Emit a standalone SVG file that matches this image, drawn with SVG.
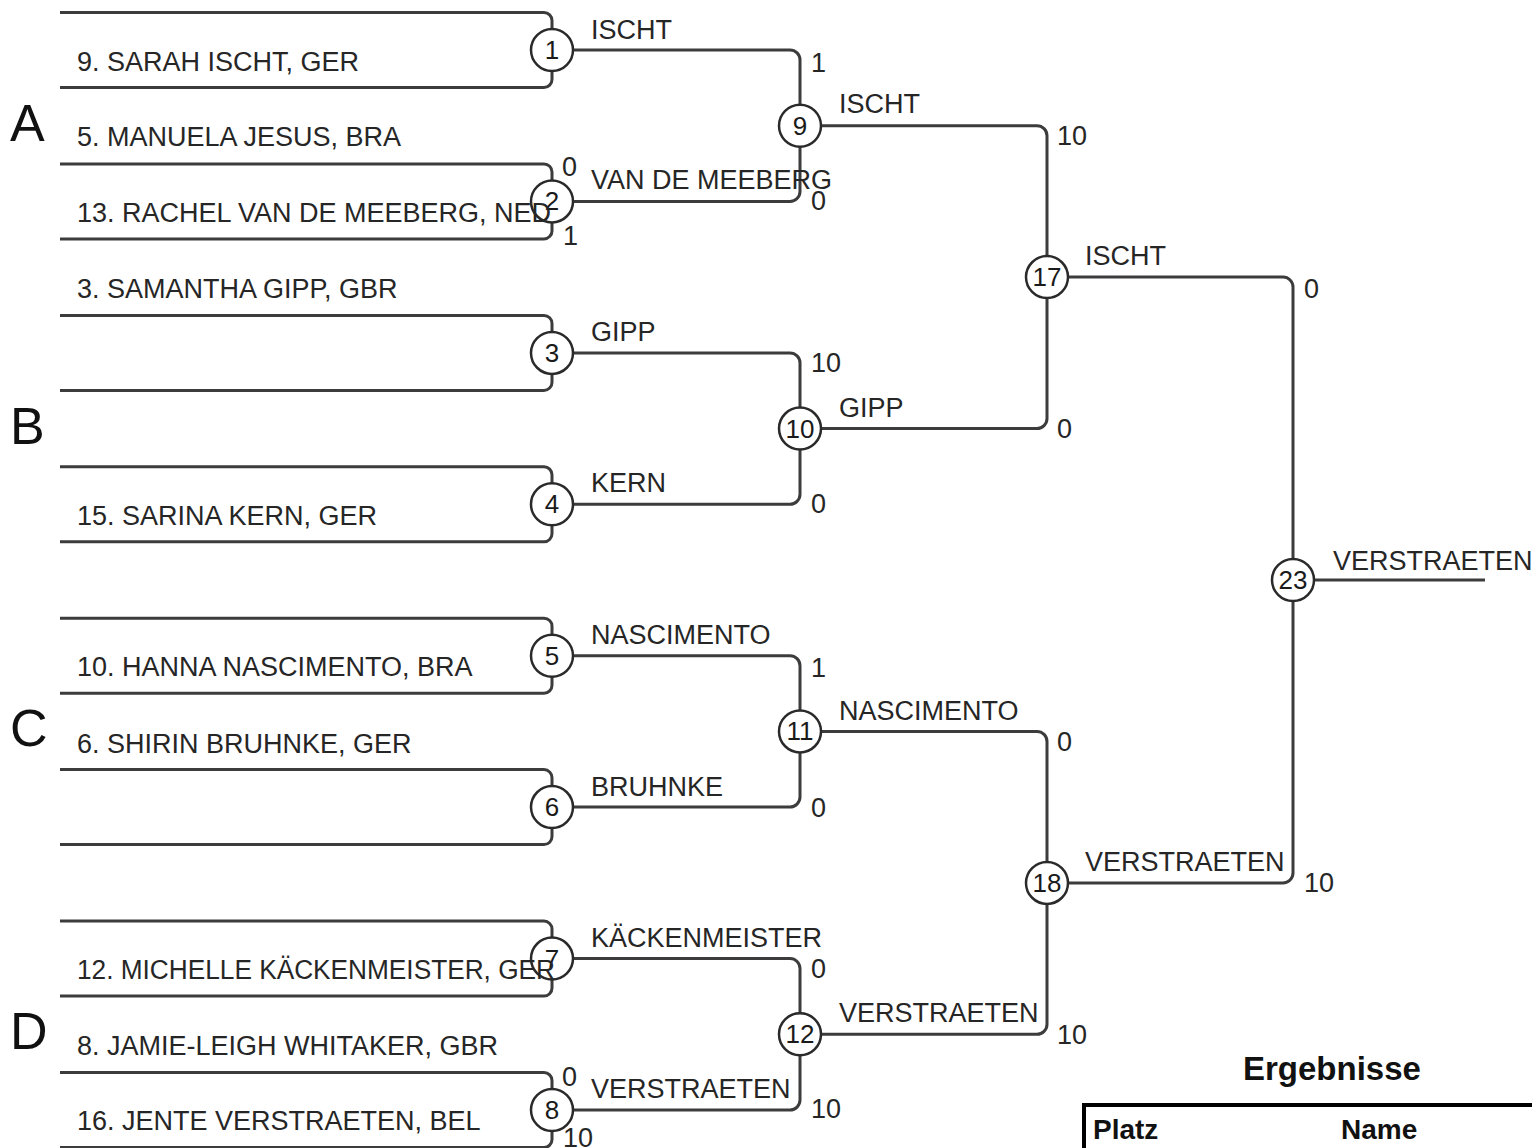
<svg xmlns="http://www.w3.org/2000/svg" width="1532" height="1148" viewBox="0 0 1532 1148">
<style>
.ln{fill:none;stroke:#3c3c3c;stroke-width:3;stroke-linecap:butt}
.c{fill:#fff;stroke:#2a2a2a;stroke-width:2.5}
.num{font-family:"Liberation Sans",Arial,sans-serif;font-size:26px;fill:#1a1a1a;text-anchor:middle}
.t{font-family:"Liberation Sans",Arial,sans-serif;font-size:27px;fill:#262626}
.g{font-family:"Liberation Sans",Arial,sans-serif;font-size:52px;fill:#111}
.h{font-family:"Liberation Sans",Arial,sans-serif;font-weight:bold;fill:#111}
</style>
<rect width="1532" height="1148" fill="#fff"/>
<g id="connectors" class="ln">
<path d="M60 12.5H544A8 8 0 0 1 552 20.5V29M60 87.5H544A8 8 0 0 0 552 79.5V71"/>
<path d="M60 163.9H544A8 8 0 0 1 552 171.9V180.4M60 238.9H544A8 8 0 0 0 552 230.9V222.4"/>
<path d="M60 315.4H544A8 8 0 0 1 552 323.4V331.9M60 390.4H544A8 8 0 0 0 552 382.4V373.9"/>
<path d="M60 466.8H544A8 8 0 0 1 552 474.8V483.3M60 541.8H544A8 8 0 0 0 552 533.8V525.3"/>
<path d="M60 618.2H544A8 8 0 0 1 552 626.2V634.7M60 693.2H544A8 8 0 0 0 552 685.2V676.7"/>
<path d="M60 769.6H544A8 8 0 0 1 552 777.6V786.1M60 844.6H544A8 8 0 0 0 552 836.6V828.1"/>
<path d="M60 921.1H544A8 8 0 0 1 552 929.1V937.6M60 996.1H544A8 8 0 0 0 552 988.1V979.6"/>
<path d="M60 1072.5H544A8 8 0 0 1 552 1080.5V1089M60 1147.5H544A8 8 0 0 0 552 1139.5V1131"/>
<path d="M573 50H790A10 10 0 0 1 800 60V104.7"/>
<path d="M573 201.4H790A10 10 0 0 0 800 191.4V146.7"/>
<path d="M573 352.9H790A10 10 0 0 1 800 362.9V407.6"/>
<path d="M573 504.3H790A10 10 0 0 0 800 494.3V449.6"/>
<path d="M573 655.7H790A10 10 0 0 1 800 665.7V710.4"/>
<path d="M573 807.1H790A10 10 0 0 0 800 797.1V752.4"/>
<path d="M573 958.6H790A10 10 0 0 1 800 968.6V1013.3"/>
<path d="M573 1110H790A10 10 0 0 0 800 1100V1055.3"/>
<path d="M821 125.7H1037A10 10 0 0 1 1047 135.7V256.1"/>
<path d="M821 428.6H1037A10 10 0 0 0 1047 418.6V298.1"/>
<path d="M821 731.4H1037A10 10 0 0 1 1047 741.4V861.9"/>
<path d="M821 1034.3H1037A10 10 0 0 0 1047 1024.3V903.9"/>
<path d="M1068 277.1H1283A10 10 0 0 1 1293 287.1V559"/>
<path d="M1068 882.9H1283A10 10 0 0 0 1293 872.9V601"/>
<path d="M1314 580H1485"/>
</g>
<g id="m1"><circle class="c" cx="552" cy="50" r="21"/><text class="num" x="552" y="59">1</text></g>
<g id="m2"><circle class="c" cx="552" cy="201.4" r="21"/><text class="num" x="552" y="210.4">2</text></g>
<g id="m3"><circle class="c" cx="552" cy="352.9" r="21"/><text class="num" x="552" y="361.9">3</text></g>
<g id="m4"><circle class="c" cx="552" cy="504.3" r="21"/><text class="num" x="552" y="513.3">4</text></g>
<g id="m5"><circle class="c" cx="552" cy="655.7" r="21"/><text class="num" x="552" y="664.7">5</text></g>
<g id="m6"><circle class="c" cx="552" cy="807.1" r="21"/><text class="num" x="552" y="816.1">6</text></g>
<g id="m7"><circle class="c" cx="552" cy="958.6" r="21"/><text class="num" x="552" y="967.6">7</text></g>
<g id="m8"><circle class="c" cx="552" cy="1110" r="21"/><text class="num" x="552" y="1119">8</text></g>
<g id="m9"><circle class="c" cx="800" cy="125.7" r="21"/><text class="num" x="800" y="134.7">9</text></g>
<g id="m10"><circle class="c" cx="800" cy="428.6" r="21"/><text class="num" x="800" y="437.6">10</text></g>
<g id="m11"><circle class="c" cx="800" cy="731.4" r="21"/><text class="num" x="800" y="740.4">11</text></g>
<g id="m12"><circle class="c" cx="800" cy="1034.3" r="21"/><text class="num" x="800" y="1043.3">12</text></g>
<g id="m17"><circle class="c" cx="1047" cy="277.1" r="21"/><text class="num" x="1047" y="286.1">17</text></g>
<g id="m18"><circle class="c" cx="1047" cy="882.9" r="21"/><text class="num" x="1047" y="891.9">18</text></g>
<g id="m23"><circle class="c" cx="1293" cy="580" r="21"/><text class="num" x="1293" y="589">23</text></g>
<g id="groups">
<text class="g" x="10" y="140.5">A</text>
<text class="g" x="10" y="443.5">B</text>
<text class="g" x="10" y="745.5">C</text>
<text class="g" x="10" y="1048.5">D</text>
</g>
<g id="players" class="t">
<text x="77" y="70.5">9. SARAH ISCHT, GER</text>
<text x="77" y="146">5. MANUELA JESUS, BRA</text>
<text x="77" y="222">13. RACHEL VAN DE MEEBERG, NED</text>
<text x="77" y="297.5">3. SAMANTHA GIPP, GBR</text>
<text x="77" y="524.5">15. SARINA KERN, GER</text>
<text x="77" y="676">10. HANNA NASCIMENTO, BRA</text>
<text x="77" y="752.5">6. SHIRIN BRUHNKE, GER</text>
<text x="77" y="979" textLength="478" lengthAdjust="spacingAndGlyphs">12. MICHELLE KÄCKENMEISTER, GER</text>
<text x="77" y="1055">8. JAMIE-LEIGH WHITAKER, GBR</text>
<text x="77" y="1129.5">16. JENTE VERSTRAETEN, BEL</text>
</g>
<g id="winners" class="t">
<text x="591" y="39">ISCHT</text>
<text x="591" y="189">VAN DE MEEBERG</text>
<text x="591" y="340.5">GIPP</text>
<text x="591" y="492">KERN</text>
<text x="591" y="644">NASCIMENTO</text>
<text x="591" y="796">BRUHNKE</text>
<text x="591" y="946.5">KÄCKENMEISTER</text>
<text x="591" y="1098">VERSTRAETEN</text>
<text x="839" y="113">ISCHT</text>
<text x="839" y="417">GIPP</text>
<text x="839" y="719.5">NASCIMENTO</text>
<text x="839" y="1022">VERSTRAETEN</text>
<text x="1085" y="265">ISCHT</text>
<text x="1085" y="870.5">VERSTRAETEN</text>
<text x="1333" y="570">VERSTRAETEN</text>
</g>
<g id="scores" class="t">
<text x="562" y="176">0</text>
<text x="563" y="245">1</text>
<text x="562" y="1086">0</text>
<text x="563" y="1147">10</text>
<text x="811" y="72">1</text>
<text x="811" y="210">0</text>
<text x="811" y="372">10</text>
<text x="811" y="513">0</text>
<text x="811" y="677">1</text>
<text x="811" y="817">0</text>
<text x="811" y="978">0</text>
<text x="811" y="1118">10</text>
<text x="1057" y="145">10</text>
<text x="1057" y="438">0</text>
<text x="1057" y="751">0</text>
<text x="1057" y="1044">10</text>
<text x="1304" y="298">0</text>
<text x="1304" y="892">10</text>
</g>
<g id="results">
<text class="h" x="1243" y="1080" font-size="33">Ergebnisse</text>
<path d="M1084 1148V1105H1532" fill="none" stroke="#000" stroke-width="4"/>
<text class="h" x="1093" y="1139" font-size="28">Platz</text>
<text class="h" x="1341" y="1139" font-size="28">Name</text>
</g>
</svg>
